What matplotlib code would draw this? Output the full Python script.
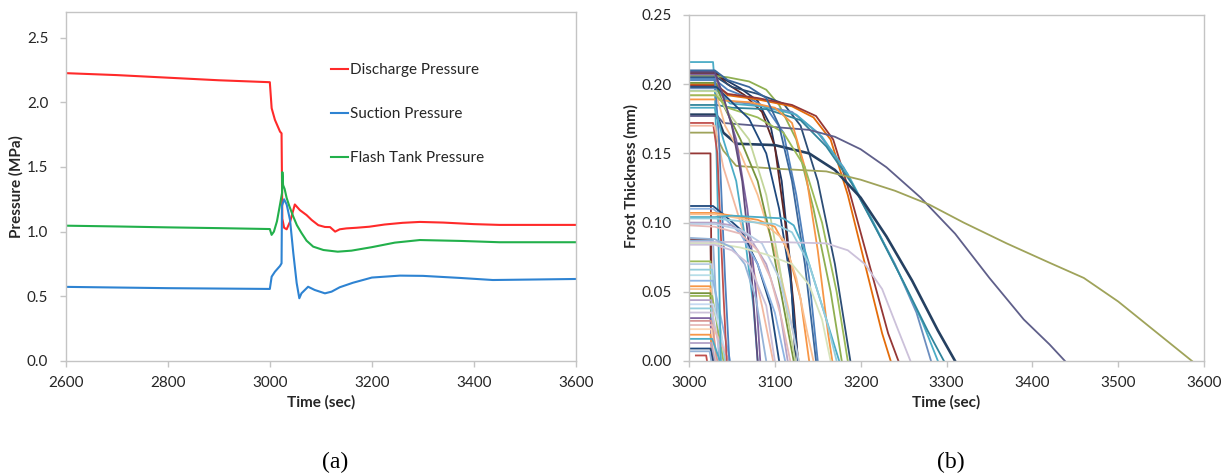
import matplotlib
matplotlib.use('Agg')
import matplotlib.pyplot as plt
from matplotlib.ticker import FormatStrFormatter

# ---------------- data: panel (a) ----------------
discharge_t = [2600, 2700, 2800, 2900, 3000, 3003.6, 3010, 3020, 3023, 3024.5, 3028, 3033,
               3040, 3049, 3059, 3072, 3082, 3095, 3108, 3118, 3128, 3137, 3150, 3170,
               3195, 3225, 3260, 3294, 3340, 3400, 3450, 3520, 3600]
discharge_p = [2.225, 2.21, 2.19, 2.17, 2.155, 1.954, 1.864, 1.773, 1.76, 1.10, 1.03, 1.018,
               1.08, 1.21, 1.166, 1.128, 1.09, 1.05, 1.036, 1.035, 1.00, 1.018, 1.025, 1.03,
               1.038, 1.055, 1.068, 1.075, 1.07, 1.058, 1.052, 1.052, 1.052]

suction_t = [2600, 2700, 2800, 2900, 3000, 3003.6, 3010, 3020, 3023, 3023.8, 3028, 3033,
             3039.6, 3046, 3052.6, 3057.8, 3062, 3075, 3088, 3108, 3121, 3137, 3163,
             3200, 3255, 3300, 3373, 3437, 3520, 3600]
suction_p = [0.573, 0.568, 0.563, 0.56, 0.557, 0.652, 0.69, 0.735, 0.755, 1.20, 1.25, 1.21,
             1.09, 0.835, 0.603, 0.485, 0.523, 0.574, 0.549, 0.523, 0.536, 0.57, 0.605,
             0.645, 0.66, 0.658, 0.642, 0.626, 0.63, 0.634]

flash_t = [2600, 2700, 2800, 2900, 3000, 3003.5, 3008, 3014, 3020, 3024, 3024.6, 3026,
           3029, 3033, 3038, 3046, 3053, 3062, 3072, 3085, 3105, 3133, 3160, 3200, 3245,
           3294, 3375, 3450, 3600]
flash_p = [1.046, 1.04, 1.033, 1.027, 1.02, 0.975, 1.0, 1.08, 1.21, 1.30, 1.46, 1.36,
           1.33, 1.26, 1.20, 1.116, 1.05, 0.99, 0.93, 0.884, 0.858, 0.845, 0.853, 0.88,
           0.915, 0.935, 0.928, 0.918, 0.918]

pressure_labels = ['Discharge Pressure', 'Suction Pressure', 'Flash Tank Pressure']

# ---------------- data: panel (b) ----------------
# series that hold a plateau and then drop almost vertically
low_levels = [0.150, 0.088, 0.087, 0.072, 0.070, 0.066, 0.062, 0.058, 0.054, 0.052,
              0.049, 0.047, 0.044, 0.041, 0.038, 0.035, 0.031, 0.029, 0.026, 0.023,
              0.019, 0.016, 0.013, 0.009, 0.007, 0.004]
low_start = [3000] * 25 + [3008]
low_hold_end = [3025, 3025, 3028, 3025, 3026, 3027, 3026, 3028, 3025, 3026,
                3025, 3027, 3026, 3028, 3026, 3027, 3025, 3026, 3027, 3026,
                3025, 3027, 3026, 3025, 3024, 3020]
low_zero = [3027, 3027, 3035, 3027, 3030, 3042, 3029, 3048, 3027, 3031,
            3027, 3040, 3029, 3045, 3030, 3038, 3027, 3033, 3047, 3030,
            3028, 3036, 3030, 3028, 3026, 3021]

# series that melt gradually (time, thickness)
melt_times = [
    [3000, 3028, 3030, 3034, 3037],
    [3000, 3030, 3040, 3060, 3080, 3095, 3108, 3118, 3124],
    [3000, 3031, 3045, 3065, 3085, 3100, 3112, 3122, 3127],
    [3000, 3030, 3045, 3070, 3090, 3105, 3125, 3145, 3165, 3178],
    [3000, 3032, 3050, 3080, 3110, 3130, 3150, 3170, 3188],
    [3000, 3031, 3045, 3070, 3090, 3110, 3125, 3140, 3150],
    [3000, 3032, 3045, 3080, 3120, 3145, 3165, 3185, 3205, 3225, 3235],
    [3000, 3032, 3045, 3080, 3120, 3148, 3168, 3188, 3210, 3232, 3244],
    [3000, 3032, 3045, 3080, 3120, 3150, 3180, 3210, 3240, 3265, 3282],
    [3000, 3033, 3048, 3085, 3125, 3155, 3185, 3215, 3245, 3272, 3290],
    [3000, 3032, 3050, 3090, 3130, 3160, 3190, 3220, 3250, 3278, 3297],
    [3000, 3032, 3040, 3055, 3100, 3140, 3170, 3200, 3230, 3260, 3290, 3310],
    [3000, 3033, 3040, 3080, 3140, 3170, 3200, 3230, 3270, 3310, 3350, 3390, 3420, 3438],
    [3000, 3030, 3040, 3055, 3100, 3160, 3200, 3240, 3280, 3320, 3370, 3420, 3460, 3500, 3540, 3586],
    [3000, 3028, 3033, 3040, 3044],
    [3000, 3030, 3040, 3055, 3070, 3085, 3098],
    [3000, 3031, 3045, 3070, 3100, 3120, 3135, 3150, 3162, 3167],
    [3000, 3032, 3042, 3060, 3080, 3100, 3115, 3128],
    [3000, 3031, 3040, 3060, 3080, 3095, 3110, 3122],
    [3000, 3030, 3040, 3055, 3068, 3078, 3083],
    [3000, 3030, 3035, 3042, 3047],
    [3000, 3030, 3040, 3055, 3065, 3075, 3080],
    [3000, 3031, 3045, 3070, 3090, 3105, 3118, 3124],
    [3000, 3031, 3045, 3080, 3110, 3135, 3155, 3172, 3185],
    [3000, 3032, 3045, 3070, 3090, 3105, 3118, 3127],
    [3000, 3030, 3038, 3050, 3062, 3072, 3080],
    [3000, 3030, 3045, 3070, 3090, 3105, 3120, 3135, 3148],
    [3000, 3028, 3040, 3060, 3080, 3095, 3105],
    [3000, 3028, 3040, 3060, 3080, 3100, 3112],
    [3000, 3030, 3050, 3080, 3100, 3115, 3130, 3140],
    [3000, 3030, 3060, 3090, 3110, 3125, 3138, 3145],
    [3000, 3030, 3050, 3080, 3110, 3122, 3135, 3150, 3165, 3175],
    [3000, 3030, 3060, 3100, 3120, 3140, 3160, 3172],
    [3000, 3030, 3050, 3070, 3090, 3105, 3115],
    [3000, 3030, 3060, 3085, 3105, 3120, 3128],
    [3000, 3030, 3100, 3160, 3185, 3205, 3225, 3242, 3258],
    [3000, 3030, 3060, 3090, 3120, 3140, 3155, 3165],
    [3000, 3030, 3060, 3080, 3095, 3108, 3118],
    [3000, 3030, 3050, 3065, 3078, 3090],
    [3000, 3030, 3050, 3070, 3090, 3100],
]
melt_values = [
    [0.216, 0.216, 0.200, 0.100, 0.0],
    [0.209, 0.209, 0.204, 0.197, 0.188, 0.170, 0.130, 0.070, 0.0],
    [0.208, 0.208, 0.200, 0.192, 0.180, 0.155, 0.100, 0.040, 0.0],
    [0.206, 0.206, 0.205, 0.202, 0.196, 0.185, 0.160, 0.110, 0.050, 0.0],
    [0.205, 0.205, 0.198, 0.193, 0.186, 0.170, 0.130, 0.070, 0.0],
    [0.203, 0.203, 0.196, 0.190, 0.183, 0.165, 0.120, 0.060, 0.0],
    [0.200, 0.200, 0.192, 0.189, 0.184, 0.176, 0.160, 0.120, 0.070, 0.020, 0.0],
    [0.199, 0.199, 0.193, 0.190, 0.185, 0.177, 0.160, 0.120, 0.070, 0.020, 0.0],
    [0.197, 0.197, 0.188, 0.185, 0.180, 0.165, 0.140, 0.105, 0.070, 0.035, 0.0],
    [0.195, 0.195, 0.186, 0.184, 0.178, 0.162, 0.135, 0.100, 0.063, 0.028, 0.0],
    [0.185, 0.185, 0.183, 0.182, 0.174, 0.155, 0.128, 0.093, 0.057, 0.022, 0.0],
    [0.178, 0.178, 0.165, 0.157, 0.156, 0.150, 0.138, 0.118, 0.090, 0.058, 0.022, 0.0],
    [0.177, 0.177, 0.172, 0.170, 0.167, 0.162, 0.153, 0.140, 0.118, 0.092, 0.060, 0.030, 0.012, 0.0],
    [0.165, 0.165, 0.152, 0.141, 0.139, 0.137, 0.131, 0.123, 0.113, 0.100, 0.085, 0.071, 0.060, 0.043, 0.023, 0.0],
    [0.172, 0.172, 0.150, 0.050, 0.0],
    [0.170, 0.170, 0.140, 0.110, 0.080, 0.040, 0.0],
    [0.189, 0.189, 0.188, 0.187, 0.183, 0.172, 0.140, 0.080, 0.020, 0.0],
    [0.192, 0.192, 0.170, 0.150, 0.120, 0.080, 0.040, 0.0],
    [0.201, 0.201, 0.185, 0.160, 0.130, 0.090, 0.040, 0.0],
    [0.207, 0.207, 0.190, 0.160, 0.110, 0.050, 0.0],
    [0.204, 0.204, 0.160, 0.060, 0.0],
    [0.183, 0.183, 0.160, 0.130, 0.090, 0.040, 0.0],
    [0.195, 0.195, 0.180, 0.160, 0.120, 0.070, 0.020, 0.0],
    [0.192, 0.192, 0.183, 0.176, 0.165, 0.140, 0.100, 0.050, 0.0],
    [0.198, 0.198, 0.190, 0.175, 0.150, 0.110, 0.060, 0.0],
    [0.209, 0.209, 0.195, 0.170, 0.130, 0.070, 0.0],
    [0.210, 0.210, 0.203, 0.198, 0.190, 0.170, 0.130, 0.070, 0.0],
    [0.112, 0.112, 0.106, 0.095, 0.070, 0.040, 0.0],
    [0.110, 0.110, 0.104, 0.092, 0.070, 0.035, 0.0],
    [0.107, 0.107, 0.105, 0.102, 0.097, 0.080, 0.045, 0.0],
    [0.106, 0.106, 0.103, 0.098, 0.088, 0.060, 0.020, 0.0],
    [0.104, 0.104, 0.105, 0.104, 0.103, 0.098, 0.080, 0.050, 0.020, 0.0],
    [0.103, 0.103, 0.101, 0.099, 0.093, 0.070, 0.030, 0.0],
    [0.100, 0.100, 0.098, 0.090, 0.070, 0.040, 0.0],
    [0.099, 0.099, 0.095, 0.085, 0.060, 0.025, 0.0],
    [0.086, 0.086, 0.086, 0.085, 0.080, 0.070, 0.052, 0.025, 0.0],
    [0.085, 0.085, 0.082, 0.077, 0.070, 0.055, 0.030, 0.0],
    [0.098, 0.097, 0.092, 0.080, 0.060, 0.030, 0.0],
    [0.089, 0.088, 0.082, 0.070, 0.045, 0.0],
    [0.084, 0.084, 0.080, 0.070, 0.040, 0.0],
]

# ---------------- styles ----------------
pressure_colors = ['#FF2A2A', '#2E83D2', '#22B04B']
low_colors = ['#953735', '#772C2A', '#95B3D7', '#9BBB59', '#B9CDE5', '#93CDDD', '#B7DEE8',
              '#8EB4E3', '#F79646', '#FAC090', '#77933C', '#9BBB59', '#B3A2C7', '#C6D9F1',
              '#93CDDD', '#CCC1DA', '#8064A2', '#D99694', '#E6B9B8', '#FCD5B5', '#F79646',
              '#4BACC6', '#B3A2C7', '#1F497D', '#95B3D7', '#C0504D']
melt_colors = ['#4BACC6', '#1F3864', '#632523', '#8FAF52', '#2C4D75', '#4F81BD', '#E46C0A',
               '#953735', '#6C8EBF', '#4BACC6', '#31859C', '#254061', '#5F5F8A', '#9FA35A',
               '#C0504D', '#F2B8A0', '#F79646', '#FAC090', '#77933C', '#8064A2', '#4F81BD',
               '#4BACC6', '#C3D69B', '#9BBB59', '#1F497D', '#604A7B', '#3A679C',
               '#1F497D', '#8DB3E2', '#F79646', '#FAC090', '#4BACC6', '#93CDDD', '#B3A2C7',
               '#B9CDE5', '#CCC1DA', '#D7E4BD', '#E6B9B8', '#95B3D7', '#CCC0DA']
melt_widths = [1.3] * 11 + [1.9] + [1.3] * 28

plt.rcParams['font.family'] = ['Lato', 'DejaVu Sans']

W, H = 1230, 476
fig = plt.figure(figsize=(W / 100, H / 100), dpi=100)
axA = fig.add_axes([65.7 / W, 1 - 361 / H, (576 - 65.7) / W, (361 - 11.7) / H])
axB = fig.add_axes([689 / W, 1 - 361 / H, (1204 - 689) / W, (361 - 15) / H])

frame = '#C4C4C4'
for ax in (axA, axB):
    for s in ax.spines.values():
        s.set_color(frame)
        s.set_linewidth(1.0)
    ax.tick_params(axis='both', direction='out', length=4, width=1, color=frame,
                   labelcolor='#262626', labelsize=11)
    ax.tick_params(axis='y', pad=8.5)
    ax.tick_params(axis='x', pad=6.5)

# panel (a)
for t, p, c, lab in zip([discharge_t, suction_t, flash_t], [discharge_p, suction_p, flash_p],
                        pressure_colors, pressure_labels):
    axA.plot(t, p, color=c, lw=1.5, label=lab, solid_joinstyle='round')
axA.set_xlim(2600, 3600)
axA.set_ylim(0, 2.7)
axA.set_xticks(range(2600, 3601, 200))
axA.set_yticks([0, 0.5, 1.0, 1.5, 2.0, 2.5])
axA.yaxis.set_major_formatter(FormatStrFormatter('%.1f'))
axA.set_xlabel('Time (sec)', fontweight='bold', fontsize=11, color='#262626')
axA.set_ylabel('Pressure (MPa)', fontweight='bold', fontsize=11, color='#262626')
axA.xaxis.set_label_coords(0.5, -0.097)
axA.yaxis.set_label_coords(-0.097, 0.5)
axA.yaxis.label.set_va('center')
leg = axA.legend(loc='upper left', bbox_to_anchor=(331 / W, 1 - 63 / H),
                 bbox_transform=fig.transFigure, frameon=False, fontsize=11,
                 handlelength=1.1, handletextpad=0.12, labelspacing=1.98,
                 borderpad=0, borderaxespad=0)
for txt in leg.get_texts():
    txt.set_color('#262626')

# panel (b)
for lv, t0, t1, tz, c in zip(low_levels, low_start, low_hold_end, low_zero, low_colors):
    axB.plot([t0, t1, tz], [lv, lv, 0.0], color=c, lw=1.3)
for t, v, c, w in zip(melt_times, melt_values, melt_colors, melt_widths):
    axB.plot(t, v, color=c, lw=w, solid_joinstyle='round')
axB.set_xlim(3000, 3600)
axB.set_ylim(0, 0.25)
axB.set_xticks(range(3000, 3601, 100))
axB.set_yticks([0, 0.05, 0.10, 0.15, 0.20, 0.25])
axB.yaxis.set_major_formatter(FormatStrFormatter('%.2f'))
axB.set_xlabel('Time (sec)', fontweight='bold', fontsize=11, color='#262626')
axB.set_ylabel('Frost Thickness (mm)', fontweight='bold', fontsize=11, color='#262626')
axB.xaxis.set_label_coords(0.5, -0.099)
axB.yaxis.set_label_coords(-0.111, 0.535)
axB.yaxis.label.set_va('center')

fig.text(335 / W, 1 - 462 / H, '(a)', family='Liberation Serif', fontsize=17,
         ha='center', va='center')
fig.text(951 / W, 1 - 462 / H, '(b)', family='Liberation Serif', fontsize=17,
         ha='center', va='center')

fig.savefig('out.png', dpi=100)
